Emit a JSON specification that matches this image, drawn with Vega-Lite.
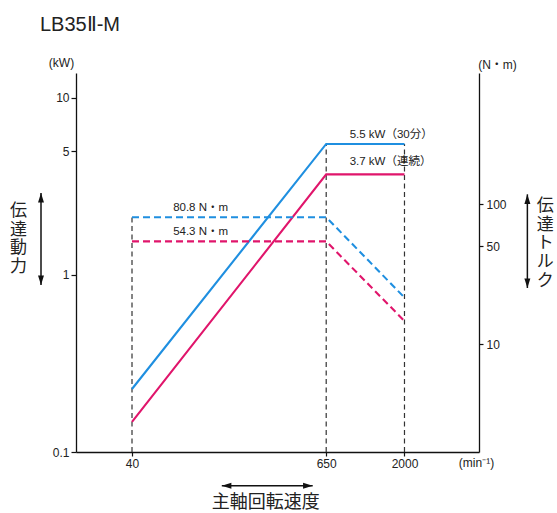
{
  "$schema": "https://vega.github.io/schema/vega-lite/v6.json",
  "width": 403,
  "height": 379,
  "autosize": {"type": "none"},
  "padding": {"left": 76, "top": 73, "right": 78, "bottom": 61},
  "background": "white",
  "title": {"text": "LB35Ⅱ-M", "anchor": "start", "frame": "group", "dx": -36, "offset": 21, "fontSize": 20, "font": "Liberation Sans", "fontWeight": "normal", "color": "#222"},
  "datasets": {
    "power": [
      {"rpm": 40, "kw": 0.227, "series": "30分"},
      {"rpm": 650, "kw": 5.5, "series": "30分"},
      {"rpm": 2000, "kw": 5.5, "series": "30分"},
      {"rpm": 40, "kw": 0.148, "series": "連続"},
      {"rpm": 650, "kw": 3.7, "series": "連続"},
      {"rpm": 2000, "kw": 3.7, "series": "連続"}
    ],
    "torque": [
      {"rpm": 40, "nm": 80.8, "series": "30分"},
      {"rpm": 650, "nm": 80.8, "series": "30分"},
      {"rpm": 2000, "nm": 21.5, "series": "30分"},
      {"rpm": 40, "nm": 54.3, "series": "連続"},
      {"rpm": 650, "nm": 54.3, "series": "連続"},
      {"rpm": 2000, "nm": 14.6, "series": "連続"}
    ],
    "vlines": [
      {"rpm": 40, "kw": 0.1, "kw2": 2.12},
      {"rpm": 650, "kw": 0.1, "kw2": 5.5},
      {"rpm": 2000, "kw": 0.1, "kw2": 5.5}
    ],
    "labels": [
      {"rpm": 910, "kw": 6.18, "text": "5.5 kW（30分）"},
      {"rpm": 910, "kw": 4.33, "text": "3.7 kW（連続）"},
      {"rpm": 72.2, "kw": 2.38, "text": "80.8 N・m"},
      {"rpm": 72.2, "kw": 1.74, "text": "54.3 N・m"}
    ],
    "vtexts": [
      {"rpm": 7.85, "kw": 2.299, "text": "伝\n達\n動\n力"},
      {"rpm": 15117, "kw": 2.454, "text": "伝\n達\nト\nル\nク"}
    ],
    "btext": [
      {"rpm": 272.8, "kw": 0.0515, "text": "主軸回転速度"}
    ],
    "arrows": [
      {"rpm": 10.83, "rpm2": 10.83, "kw": 2.905, "kw2": 0.878},
      {"rpm": 11676, "rpm2": 11676, "kw": 2.855, "kw2": 0.8445},
      {"rpm": 145.2, "rpm2": 535.4, "kw": 0.0645, "kw2": 0.0645}
    ],
    "heads": [
      {"rpm": 10.83, "kw": 2.905, "dir": "up"},
      {"rpm": 10.83, "kw": 0.878, "dir": "down"},
      {"rpm": 11676, "kw": 2.855, "dir": "up"},
      {"rpm": 11676, "kw": 0.8445, "dir": "down"},
      {"rpm": 145.2, "kw": 0.0645, "dir": "left"},
      {"rpm": 535.4, "kw": 0.0645, "dir": "right"}
    ]
  },
  "layer": [
    {
      "layer": [
        {
          "data": {"name": "vlines"},
          "mark": {"type": "rule", "strokeDash": [5, 3.5], "color": "#333", "strokeWidth": 1.2},
          "encoding": {
            "x": {"field": "rpm", "type": "quantitative",
              "scale": {"type": "log", "domain": [17.9, 5830], "nice": false},
              "axis": {"title": "(min⁻¹)", "values": [40, 650, 2000], "format": "d", "grid": false, "tickSize": 4, "labelPadding": 2, "labelOverlap": false, "labelFlush": false,
                "titleAngle": 0, "titleX": 400, "titleY": 10, "titleAlign": "center", "titleBaseline": "middle"}},
            "y": {"field": "kw", "type": "quantitative",
              "scale": {"type": "log", "domain": [0.1, 13.84], "nice": false},
              "axis": {"title": "(kW)", "orient": "left", "values": [0.1, 1, 5, 10], "format": "~g", "grid": false, "tickSize": 5, "labelPadding": 2, "labelOverlap": false,
                "titleAngle": 0, "titleX": -15, "titleY": -11, "titleAlign": "center", "titleBaseline": "middle"}},
            "y2": {"field": "kw2"}
          }
        },
        {
          "data": {"name": "power"},
          "mark": {"type": "line", "strokeWidth": 2.1},
          "encoding": {
            "x": {"field": "rpm", "type": "quantitative"},
            "y": {"field": "kw", "type": "quantitative"},
            "color": {"field": "series", "type": "nominal", "scale": {"domain": ["30分", "連続"], "range": ["#1f8fe0", "#e0156b"]}, "legend": null}
          }
        },
        {
          "data": {"name": "labels"},
          "mark": {"type": "text", "align": "left", "baseline": "middle", "fontSize": 11.5, "font": "Liberation Sans, Noto Sans CJK JP, sans-serif", "color": "#222"},
          "encoding": {
            "x": {"field": "rpm", "type": "quantitative"},
            "y": {"field": "kw", "type": "quantitative"},
            "text": {"field": "text"}
          }
        },
        {
          "data": {"name": "vtexts"},
          "mark": {"type": "text", "align": "center", "baseline": "middle", "fontSize": 17, "lineHeight": 18.7, "lineBreak": "\n", "font": "Noto Sans CJK JP", "color": "#222"},
          "encoding": {
            "x": {"field": "rpm", "type": "quantitative"},
            "y": {"field": "kw", "type": "quantitative"},
            "text": {"field": "text"}
          }
        },
        {
          "data": {"name": "btext"},
          "mark": {"type": "text", "align": "center", "baseline": "middle", "fontSize": 18, "font": "Noto Sans CJK JP", "color": "#222"},
          "encoding": {
            "x": {"field": "rpm", "type": "quantitative"},
            "y": {"field": "kw", "type": "quantitative"},
            "text": {"field": "text"}
          }
        },
        {
          "data": {"name": "arrows"},
          "mark": {"type": "rule", "color": "#111", "strokeWidth": 1.5},
          "encoding": {
            "x": {"field": "rpm", "type": "quantitative"},
            "x2": {"field": "rpm2"},
            "y": {"field": "kw", "type": "quantitative"},
            "y2": {"field": "kw2"}
          }
        },
        {
          "data": {"name": "heads"},
          "mark": {"type": "point", "filled": true, "opacity": 1, "size": 144, "color": "#111", "strokeWidth": 0},
          "encoding": {
            "x": {"field": "rpm", "type": "quantitative"},
            "y": {"field": "kw", "type": "quantitative"},
            "shape": {"field": "dir", "type": "nominal", "legend": null,
              "scale": {"domain": ["up", "down", "left", "right"],
                "range": ["M0,0L0.5,1.6L-0.5,1.6Z", "M0,0L0.5,-1.6L-0.5,-1.6Z", "M0,0L1.6,0.5L1.6,-0.5Z", "M0,0L-1.6,0.5L-1.6,-0.5Z"]}}
          }
        }
      ]
    },
    {
      "layer": [
        {
          "data": {"name": "torque"},
          "mark": {"type": "line", "strokeWidth": 2.1, "strokeDash": [7, 4]},
          "encoding": {
            "x": {"field": "rpm", "type": "quantitative"},
            "y": {"field": "nm", "type": "quantitative",
              "scale": {"type": "log", "domain": [1.686, 871], "nice": false},
              "axis": {"title": "(N・m)", "orient": "right", "values": [10, 50, 100], "format": "~g", "grid": false, "tickSize": 4, "labelPadding": 3, "labelOverlap": false,
                "titleAngle": 0, "titleX": 18, "titleY": -9, "titleAlign": "center", "titleBaseline": "middle"}},
            "color": {"field": "series", "type": "nominal", "legend": null}
          }
        }
      ]
    }
  ],
  "resolve": {"scale": {"y": "independent"}},
  "config": {
    "view": {"stroke": null},
    "axis": {"domainColor": "#111", "domainWidth": 1.3, "tickColor": "#111", "tickWidth": 1.2, "labelFont": "Liberation Sans", "labelFontSize": 12, "labelColor": "#222", "titleFont": "Liberation Sans, Noto Sans CJK JP, sans-serif", "titleFontSize": 12, "titleFontWeight": "normal", "titleColor": "#222", "grid": false}
  }
}
